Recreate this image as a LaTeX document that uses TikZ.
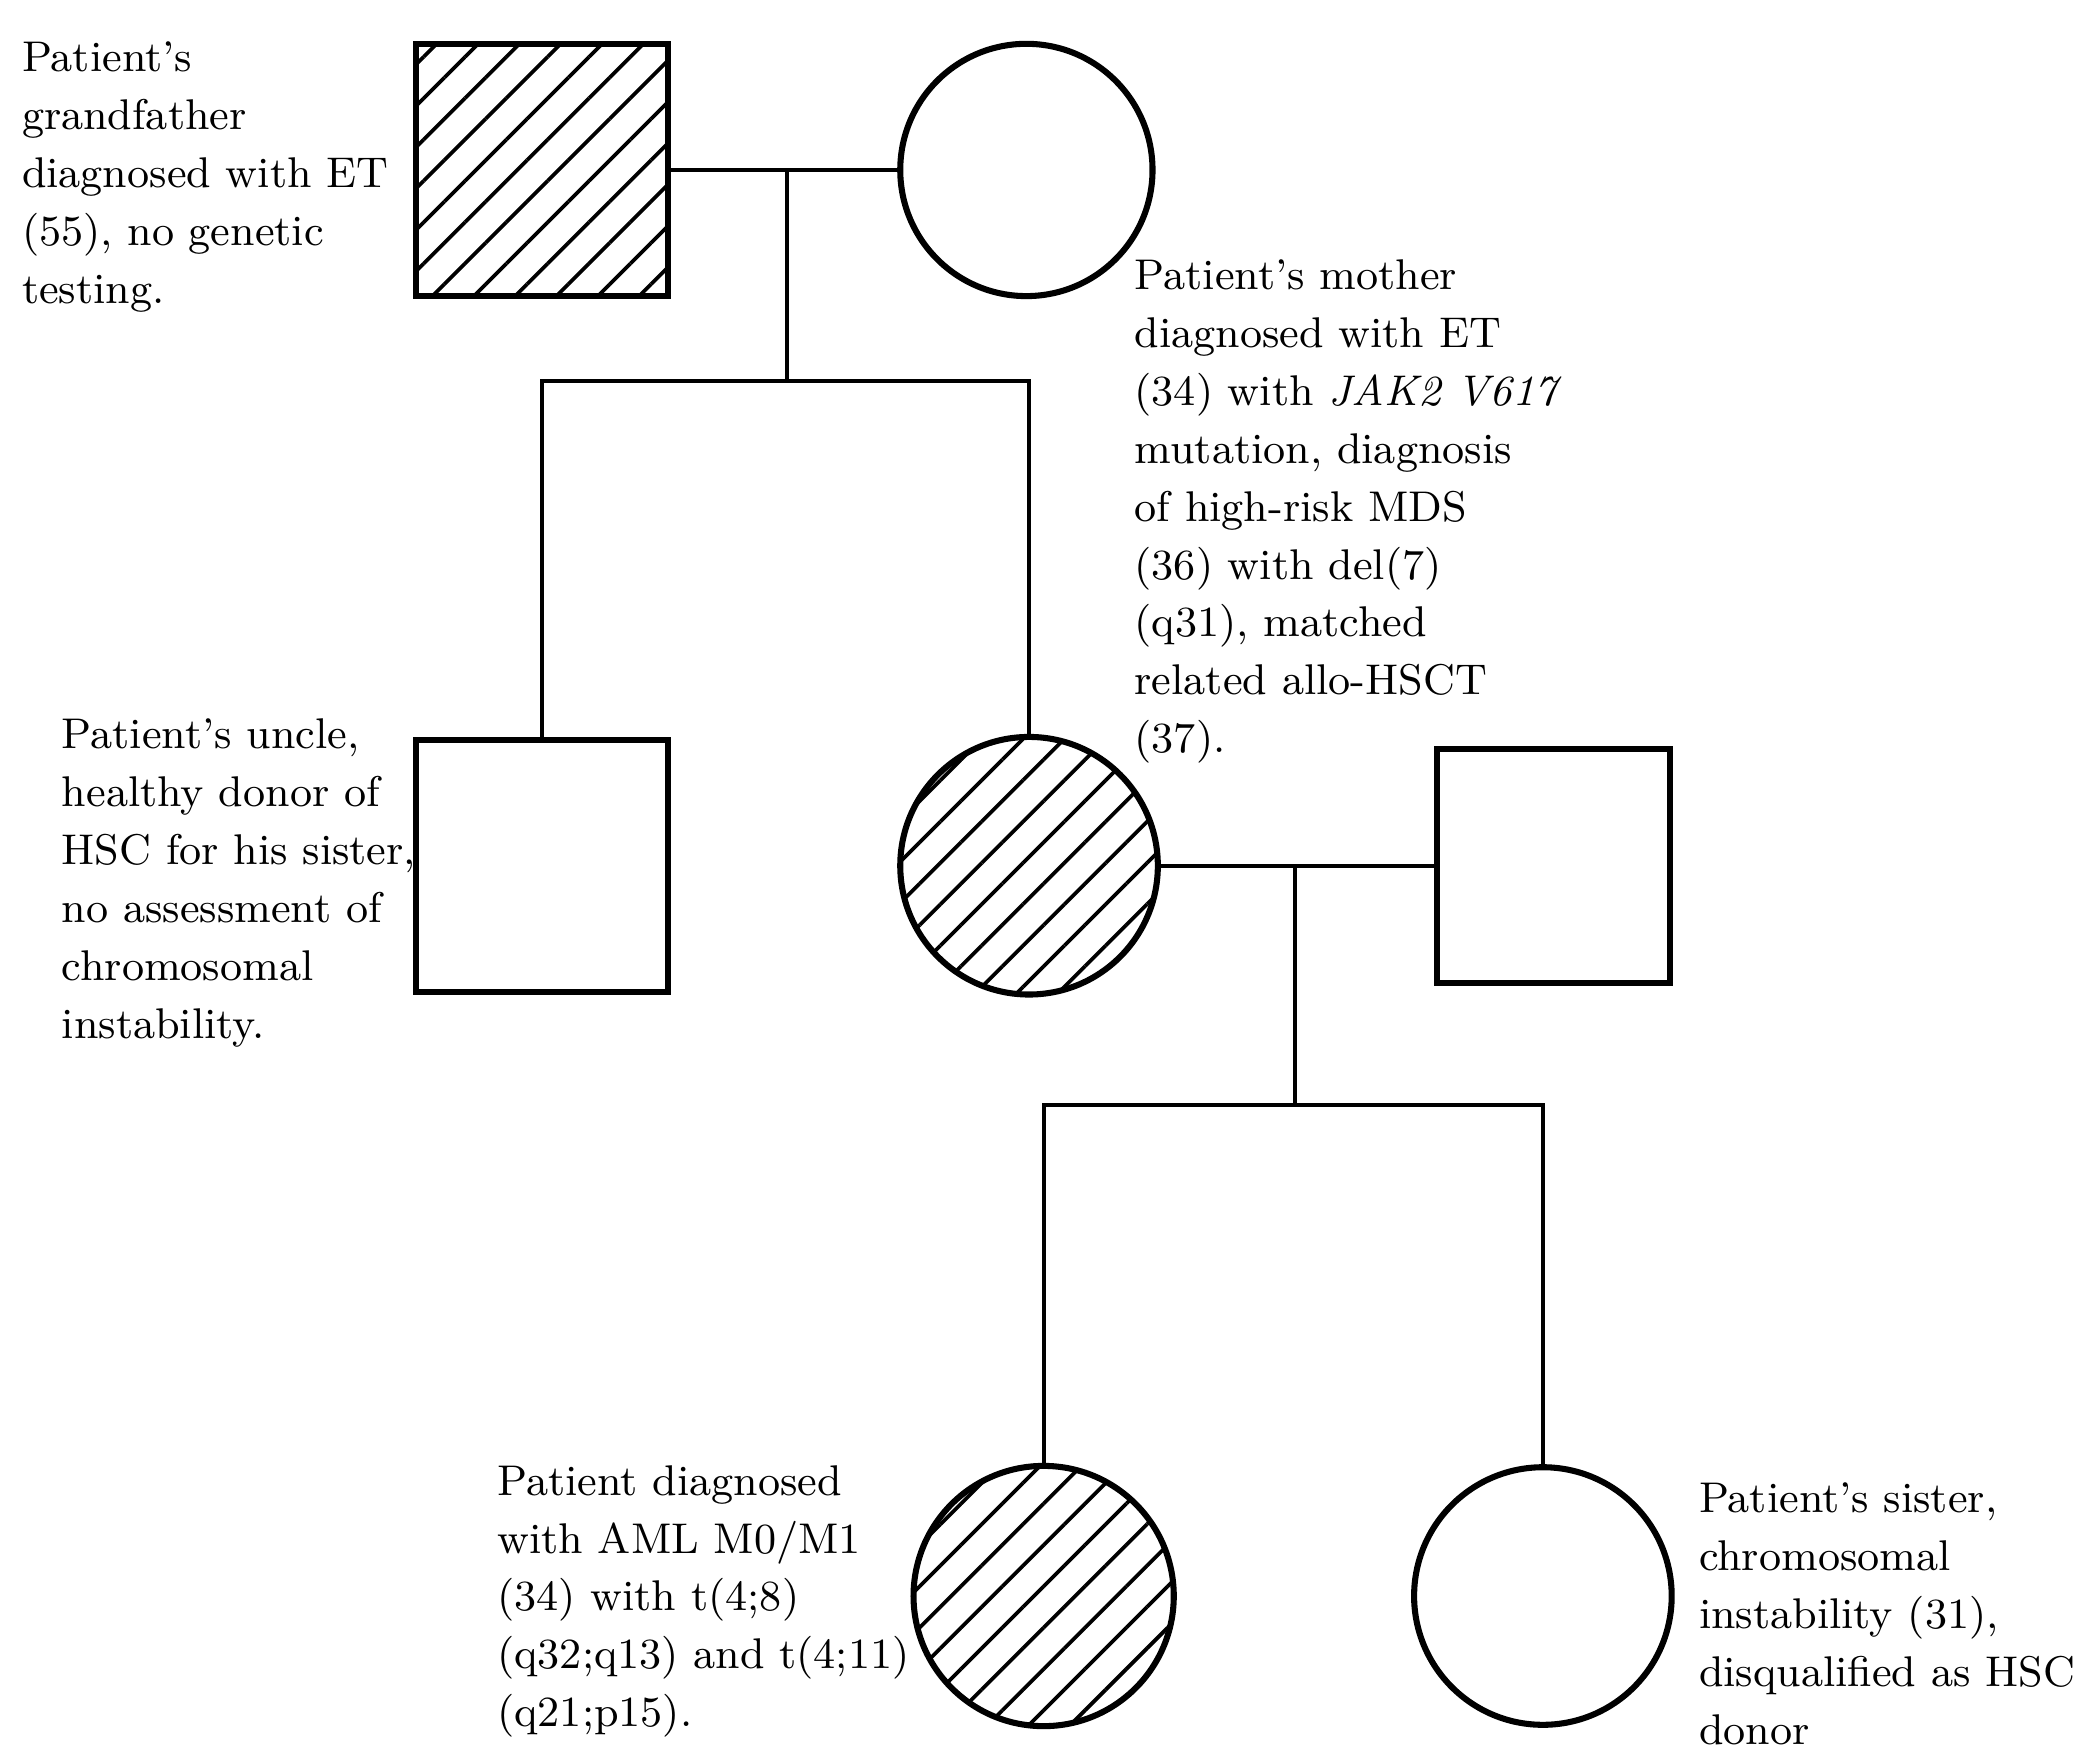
\documentclass[tikz,border=0pt]{standalone}
\usetikzlibrary{patterns.meta}
\begin{document}
\begin{tikzpicture}[x=0.01cm,y=-0.01cm,
  every path/.style={line width=0.9pt},
  sq/.style={draw,line width=1.3pt,rectangle,minimum size=#1*0.01cm,inner sep=0},
  ci/.style={draw,line width=1.3pt,circle,minimum size=#1*0.01cm,inner sep=0},
  hat/.style={pattern={Lines[angle=45,distance=0.22cm,line width=0.8pt]}},
  lbl/.style={anchor=north west,align=left,inner sep=0,font=\fontsize{9.2}{12.4}\selectfont}]
\useasboundingbox (0,0) rectangle (1568,1327);
\node[sq=190,hat] (gf) at (408,128) {};
\node[ci=190] (gm) at (773,128) {};
\node[sq=190] (un) at (408,652) {};
\node[ci=194,hat] (mo) at (775,652) {};
\node[sq=176] (fa) at (1170,652) {};
\node[ci=196,hat] (pa) at (786,1202) {};
\node[ci=194] (si) at (1162,1202) {};
\coordinate (m1) at (593,128);
\coordinate (s1) at (593,287);
\coordinate (m2) at (975,653);
\coordinate (s2) at (975,832);
\draw (gf.east) -- (gm.west);
\draw (m1) -- (s1);
\draw (un.north) |- (s1) -| (mo.north);
\draw (mo.east) -- (fa.west);
\draw (m2) -- (s2);
\draw (pa.north) |- (s2) -| (si.north);
\node[lbl] at (15,30) {Patient's\\grandfather\\diagnosed with ET\\(55), no genetic\\testing.};
\node[lbl] at (853,194) {Patient's mother\\diagnosed with ET\\(34) with \textit{JAK2 V617}\\mutation, diagnosis\\of high-risk MDS\\(36) with del(7)\\(q31), matched\\related allo-HSCT\\(37).};
\node[lbl] at (45,540) {Patient's uncle,\\healthy donor of\\HSC for his sister,\\no assessment of\\chromosomal\\instability.};
\node[lbl] at (373,1102) {Patient diagnosed\\with AML M0/M1\\(34) with t(4;8)\\(q32;q13) and t(4;11)\\(q21;p15).};
\node[lbl] at (1278,1115) {Patient's sister,\\chromosomal\\instability (31),\\disqualified as HSC\\donor};
\end{tikzpicture}
\end{document}
